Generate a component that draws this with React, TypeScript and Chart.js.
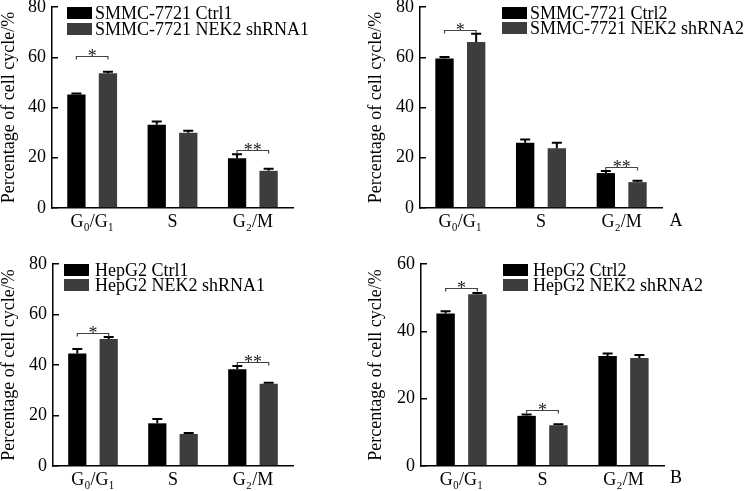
import React, { useEffect, useRef } from "react";
import { Chart, registerables } from "chart.js";
Chart.register(...registerables);

const FONT = "'Liberation Serif', 'Times New Roman', 'DejaVu Serif', serif";

// ---- data ----
const categories = ["G₀/G₁", "S", "G₂/M"];
const yTitle = "Percentage of cell cycle/%";

const smmcLabels1 = ["SMMC-7721 Ctrl1", "SMMC-7721 NEK2 shRNA1"];
const smmcCtrl1 = [45.2, 33.1, 19.8];
const smmcCtrl1Err = [0.4, 1.3, 1.6];
const smmcSh1 = [53.6, 30.0, 14.8];
const smmcSh1Err = [0.6, 0.7, 0.8];
const smmcSig1 = [
  { cat: 0, value: 60.4, mark: "*" },
  { cat: 2, value: 22.9, mark: "**" },
];

const smmcLabels2 = ["SMMC-7721 Ctrl2", "SMMC-7721 NEK2 shRNA2"];
const smmcCtrl2 = [59.5, 26.0, 13.9];
const smmcCtrl2Err = [0.6, 1.3, 0.8];
const smmcSh2 = [66.1, 23.8, 10.3];
const smmcSh2Err = [3.3, 2.2, 0.5];
const smmcSig2 = [
  { cat: 0, value: 71.0, mark: "*" },
  { cat: 2, value: 16.5, mark: "**" },
];

const hepLabels1 = ["HepG2 Ctrl1", "HepG2 NEK2 shRNA1"];
const hepCtrl1 = [44.6, 16.9, 38.3];
const hepCtrl1Err = [1.7, 1.7, 1.3];
const hepSh1 = [50.3, 12.7, 32.6];
const hepSh1Err = [0.8, 0.4, 0.4];
const hepSig1 = [
  { cat: 0, value: 52.8, mark: "*" },
  { cat: 2, value: 41.3, mark: "**" },
];

const hepLabels2 = ["HepG2 Ctrl2", "HepG2 NEK2 shRNA2"];
const hepCtrl2 = [45.3, 14.9, 32.7];
const hepCtrl2Err = [0.7, 0.4, 0.7];
const hepSh2 = [51.0, 12.1, 32.1];
const hepSh2Err = [0.4, 0.3, 0.9];
const hepSig2 = [
  { cat: 0, value: 52.8, mark: "*" },
  { cat: 1, value: 16.6, mark: "*" },
];

const COLORS = ["#000000", "#3d3d3d"];

type Sig = { cat: number; value: number; mark: string };
type PanelCfg = {
  left: number; top: number; width: number; height: number;
  pad: { left: number; top: number; right: number; bottom: number };
  yWidth: number; xHeight: number; yMax: number;
  labels: string[]; ctrl: number[]; ctrlErr: number[]; sh: number[]; shErr: number[];
  sig: Sig[];
  legend: { x: number; y: number; gap: number; textX: number };
  corner?: { text: string; x: number; y: number };
};

const panels: PanelCfg[] = [
  {
    left: 0, top: 0, width: 362, height: 245,
    pad: { left: 0, top: 7, right: 69, bottom: 0 }, yWidth: 52, xHeight: 37, yMax: 80,
    labels: smmcLabels1, ctrl: smmcCtrl1, ctrlErr: smmcCtrl1Err, sh: smmcSh1, shErr: smmcSh1Err, sig: smmcSig1,
    legend: { x: 67, y: 7, gap: 16, textX: 95 },
  },
  {
    left: 362, top: 0, width: 392, height: 245,
    pad: { left: 5, top: 7, right: 92, bottom: 0 }, yWidth: 53, xHeight: 37, yMax: 80,
    labels: smmcLabels2, ctrl: smmcCtrl2, ctrlErr: smmcCtrl2Err, sh: smmcSh2, shErr: smmcSh2Err, sig: smmcSig2,
    legend: { x: 140, y: 7, gap: 15, textX: 168 },
    corner: { text: "A", x: 314, y: 221 },
  },
  {
    left: 0, top: 245, width: 362, height: 246,
    pad: { left: 0, top: 19, right: 69, bottom: 0 }, yWidth: 53, xHeight: 25, yMax: 80,
    labels: hepLabels1, ctrl: hepCtrl1, ctrlErr: hepCtrl1Err, sh: hepSh1, shErr: hepSh1Err, sig: hepSig1,
    legend: { x: 64, y: 19, gap: 15, textX: 95 },
  },
  {
    left: 362, top: 245, width: 392, height: 246,
    pad: { left: 5, top: 19, right: 90, bottom: 0 }, yWidth: 54, xHeight: 25, yMax: 60,
    labels: hepLabels2, ctrl: hepCtrl2, ctrlErr: hepCtrl2Err, sh: hepSh2, shErr: hepSh2Err, sig: hepSig2,
    legend: { x: 141, y: 19, gap: 15, textX: 171 },
    corner: { text: "B", x: 314, y: 233 },
  },
];

function makeDecor(cfg: PanelCfg) {
  return {
    id: "decor",
    afterDatasetsDraw(chart: any) {
      const ctx = chart.ctx as CanvasRenderingContext2D;
      const y = chart.scales.y;
      // error bars
      chart.data.datasets.forEach((ds: any, di: number) => {
        const meta = chart.getDatasetMeta(di);
        meta.data.forEach((el: any, i: number) => {
          const yt = y.getPixelForValue(ds.data[i] + ds.errors[i]);
          ctx.save();
          ctx.strokeStyle = "#000";
          ctx.lineWidth = 2;
          ctx.beginPath();
          ctx.moveTo(el.x, el.y);
          ctx.lineTo(el.x, yt);
          ctx.moveTo(el.x - 5, yt);
          ctx.lineTo(el.x + 5, yt);
          ctx.stroke();
          ctx.restore();
        });
      });
      // significance brackets
      const m0 = chart.getDatasetMeta(0);
      const m1 = chart.getDatasetMeta(1);
      cfg.sig.forEach((s) => {
        const x0 = m0.data[s.cat].x;
        const x1 = m1.data[s.cat].x;
        const yy = Math.round(y.getPixelForValue(s.value)) + 0.5;
        ctx.save();
        ctx.strokeStyle = "#444";
        ctx.lineWidth = 1.2;
        ctx.beginPath();
        ctx.moveTo(x0, yy + 3);
        ctx.lineTo(x0, yy);
        ctx.lineTo(x1, yy);
        ctx.lineTo(x1, yy + 3);
        ctx.stroke();
        ctx.fillStyle = "#222";
        ctx.font = `18px ${FONT}`;
        ctx.textAlign = "center";
        ctx.textBaseline = "alphabetic";
        ctx.fillText(s.mark, (x0 + x1) / 2, yy + 5);
        ctx.restore();
      });
      // legend
      const lg = cfg.legend;
      chart.data.datasets.forEach((ds: any, di: number) => {
        const ty = lg.y + di * lg.gap;
        ctx.save();
        ctx.fillStyle = ds.backgroundColor;
        ctx.fillRect(lg.x, ty, 25, 12);
        ctx.fillStyle = "#000";
        ctx.font = `18px ${FONT}`;
        ctx.textAlign = "left";
        ctx.textBaseline = "middle";
        ctx.fillText(ds.label, lg.textX, ty + 7);
        ctx.restore();
      });
      if (cfg.corner) {
        ctx.save();
        ctx.fillStyle = "#000";
        ctx.font = `18px ${FONT}`;
        ctx.textAlign = "center";
        ctx.textBaseline = "middle";
        ctx.fillText(cfg.corner.text, cfg.corner.x, cfg.corner.y);
        ctx.restore();
      }
    },
  };
}

function Panel({ cfg }: { cfg: PanelCfg }) {
  const ref = useRef<HTMLCanvasElement | null>(null);
  useEffect(() => {
    if (!ref.current) return;
    const chart = new Chart(ref.current, {
      type: "bar",
      data: {
        labels: categories,
        datasets: [
          { label: cfg.labels[0], data: cfg.ctrl, errors: cfg.ctrlErr, backgroundColor: COLORS[0], borderWidth: 0, categoryPercentage: 0.785, barPercentage: 0.58 } as any,
          { label: cfg.labels[1], data: cfg.sh, errors: cfg.shErr, backgroundColor: COLORS[1], borderWidth: 0, categoryPercentage: 0.785, barPercentage: 0.58 } as any,
        ],
      },
      options: {
        responsive: false,
        animation: false,
        devicePixelRatio: 1,
        layout: { padding: cfg.pad },
        plugins: { legend: { display: false }, tooltip: { enabled: false } },
        scales: {
          x: {
            grid: { display: false, drawTicks: false },
            border: { display: true, color: "#000", width: 1.5 },
            ticks: { color: "#000", font: { family: FONT, size: 18 }, padding: 3, maxRotation: 0 },
            afterFit: (s: any) => { s.height = cfg.xHeight; s.paddingLeft = 0; s.paddingRight = 0; },
          },
          y: {
            min: 0,
            max: cfg.yMax,
            ticks: { stepSize: 20, color: "#000", font: { family: FONT, size: 18 }, padding: 12 },
            grid: { drawOnChartArea: false, tickLength: -6, color: "#000", lineWidth: 1.5 },
            border: { display: true, color: "#000", width: 1.5 },
            title: { display: true, text: yTitle, color: "#000", font: { family: FONT, size: 18, lineHeight: 1 }, padding: 0 },
            afterFit: (s: any) => { s.width = cfg.yWidth; s.paddingTop = 0; s.paddingBottom = 0; },
          },
        },
      } as any,
      plugins: [makeDecor(cfg)],
    });
    return () => chart.destroy();
  }, [cfg]);
  return (
    <canvas
      ref={ref}
      width={cfg.width}
      height={cfg.height}
      style={{ position: "absolute", left: cfg.left, top: cfg.top, width: cfg.width, height: cfg.height }}
    />
  );
}

export default function App() {
  return (
    <div style={{ position: "absolute", left: 0, top: 0, width: 754, height: 491, background: "#fff", overflow: "hidden" }}>
      {panels.map((p, i) => (
        <Panel key={i} cfg={p} />
      ))}
    </div>
  );
}
